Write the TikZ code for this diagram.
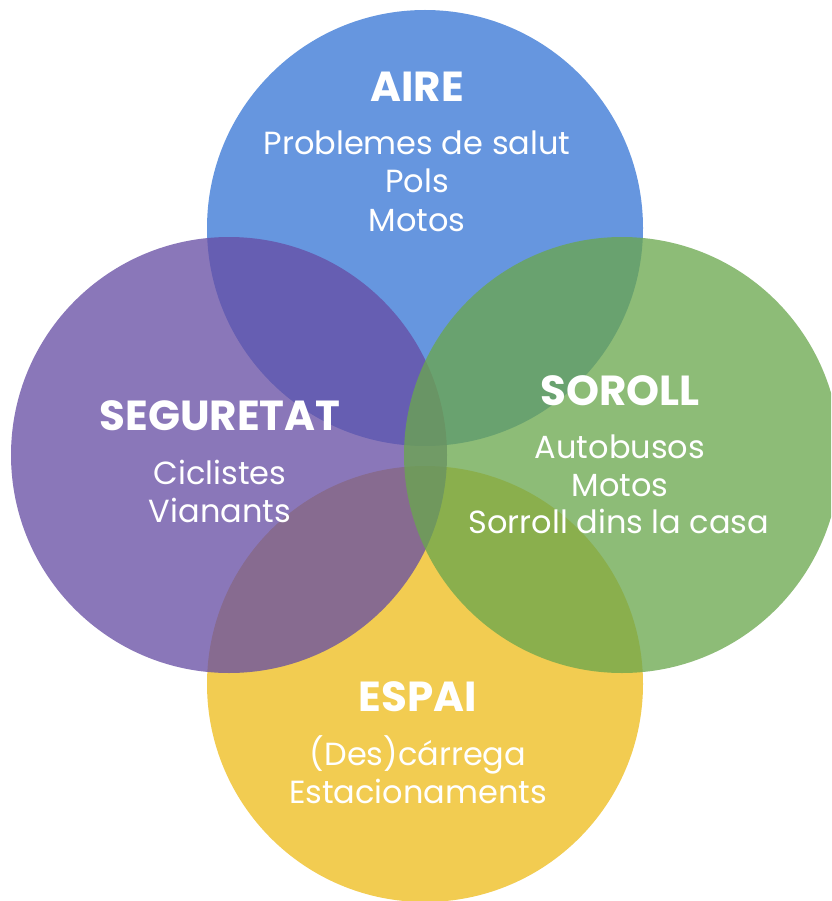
\documentclass[tikz,border=0pt]{standalone}
\usepackage{fontspec}
\setmainfont{Poppins}
\definecolor{cblue}{RGB}{54,118,213}
\definecolor{cpurple}{RGB}{102,77,164}
\definecolor{cgreen}{RGB}{106,167,77}
\definecolor{cyellow}{RGB}{238,188,27}
\begin{document}
\begin{tikzpicture}[x=1pt,y=-1pt,
  disc/.style={fill opacity=0.76, draw=none},
  ttl/.style={anchor=base, text=white, inner sep=0pt, font=\fontsize{42}{42}\selectfont\bfseries},
  itm/.style={anchor=base, text=white, inner sep=0pt, font=\fontsize{32}{38}\selectfont}]
\useasboundingbox (0,0) rectangle (831,901);
\clip (0,0) rectangle (831,901);
\fill[white] (0,0) rectangle (831,901);
\fill[cblue,disc] (425,228) circle[radius=218];
\fill[cyellow,disc] (425,684) circle[radius=218];
\fill[cpurple,disc] (229,455) circle[radius=218];
\fill[cgreen,disc] (622,455) circle[radius=218];
% AIRE
\node[ttl] (aire) at (417,102) {AIRE};
\node[itm] (a1) at (417,155) {Problemes de salut};
\node[itm] (a2) at (417,193) {Pols};
\node[itm] (a3) at (417,231) {Motos};
% SEGURETAT
\node[ttl] (seg) at (220,430) {SEGURETAT};
\node[itm] (s1) at (220,484) {Ciclistes};
\node[itm] (s2) at (220,522) {Vianants};
% SOROLL
\node[ttl] (sor) at (620,405) {SOROLL};
\node[itm] (r1) at (620,458) {Autobusos};
\node[itm] (r2) at (620,496) {Motos};
\node[itm] (r3) at (619,533) {Sorroll dins la casa};
% ESPAI
\node[ttl] (esp) at (418,711) {ESPAI};
\node[itm] (e1) at (418,765) {(Des)cárrega};
\node[itm] (e2) at (418,803) {Estacionaments};
\end{tikzpicture}
\end{document}
